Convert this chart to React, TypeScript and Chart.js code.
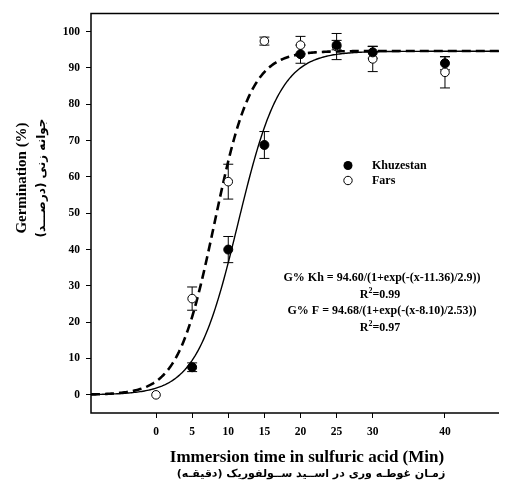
import React, { useEffect, useRef } from "react";
import { Chart, registerables } from "chart.js";

Chart.register(...registerables);

// ---- data ----
const times = [0, 5, 10, 15, 20, 25, 30, 40];
const khuzestan: (number | null)[] = [null, 7.6, 40.0, 68.8, 93.8, 96.3, 94.3, 91.3];
const khuzestanErr = [0, 1.2, 3.6, 3.7, 2.5, 1.3, 1.6, 1.8];
const fars: (number | null)[] = [0, 26.5, 58.7, 97.4, 96.3, 95.9, 92.5, 88.8];
const farsErr = [0, 3.2, 4.8, 1.1, 2.4, 3.6, 3.5, 4.3];
const xTicks = [0, 5, 10, 15, 20, 25, 30, 40];
const yTicks = [0, 10, 20, 30, 40, 50, 60, 70, 80, 90, 100];

// fitted logistic parameters printed on the chart: [a, x0, b]
const fitKh = [94.6, 11.36, 2.9];
const fitF = [94.68, 8.1, 2.53];

const X_MIN = -9;
const X_MAX = 49;

const logistic = (p: number[], x: number) => p[0] / (1 + Math.exp(-(x - p[1]) / p[2]));
const curve = (p: number[]) => {
  const pts: { x: number; y: number }[] = [];
  for (let i = 0; i <= 290; i++) {
    const x = X_MIN + (i * (X_MAX - X_MIN)) / 290;
    pts.push({ x, y: logistic(p, x) });
  }
  return pts;
};

const SERIF = "'Liberation Serif', 'Times New Roman', serif";
const ARABIC = "'DejaVu Sans', sans-serif";

const overlay = {
  id: "overlay",
  beforeDatasetsDraw(chart: any) {
    const { ctx, scales } = chart;
    const xs = scales.x;
    const ys = scales.y;
    ctx.save();
    ctx.strokeStyle = "#000";
    ctx.lineWidth = 1;
    const drawErr = (vals: (number | null)[], errs: number[]) => {
      vals.forEach((v, i) => {
        const e = errs[i];
        if (v === null || !e) return;
        const px = xs.getPixelForValue(times[i]);
        const top = ys.getPixelForValue(v + e);
        const bot = ys.getPixelForValue(v - e);
        ctx.beginPath();
        ctx.moveTo(px, top);
        ctx.lineTo(px, bot);
        ctx.moveTo(px - 5, top);
        ctx.lineTo(px + 5, top);
        ctx.moveTo(px - 5, bot);
        ctx.lineTo(px + 5, bot);
        ctx.stroke();
      });
    };
    drawErr(khuzestan, khuzestanErr);
    drawErr(fars, farsErr);
    ctx.restore();
  },
  afterDraw(chart: any) {
    const { ctx, chartArea } = chart;
    ctx.save();
    // frame
    ctx.strokeStyle = "#000";
    ctx.lineWidth = 1.5;
    ctx.strokeRect(chartArea.left, chartArea.top, chartArea.right - chartArea.left, chartArea.bottom - chartArea.top);

    const L = chartArea.left;
    const T = chartArea.top;
    const B = chartArea.bottom;

    // legend
    ctx.fillStyle = "#000";
    ctx.beginPath();
    ctx.arc(L + 257, T + 152, 4.5, 0, Math.PI * 2);
    ctx.fill();
    ctx.beginPath();
    ctx.arc(L + 257, T + 167, 4.2, 0, Math.PI * 2);
    ctx.fillStyle = "#fff";
    ctx.fill();
    ctx.lineWidth = 1;
    ctx.strokeStyle = "#000";
    ctx.stroke();
    ctx.fillStyle = "#000";
    ctx.font = `bold 12px ${SERIF}`;
    ctx.textAlign = "left";
    ctx.textBaseline = "middle";
    ctx.fillText("Khuzestan", L + 281, T + 152);
    ctx.fillText("Fars", L + 281, T + 167);

    // equations
    const cx = L + 291;
    ctx.textAlign = "center";
    ctx.fillText("G% Kh = 94.60/(1+exp(-(x-11.36)/2.9))", cx, T + 264);
    ctx.fillText("G% F = 94.68/(1+exp(-(x-8.10)/2.53))", cx, T + 297);
    const r2 = (val: string, y: number) => {
      ctx.font = `bold 12px ${SERIF}`;
      const wR = ctx.measureText("R").width;
      const wV = ctx.measureText(val).width;
      ctx.font = `bold 8px ${SERIF}`;
      const w2 = ctx.measureText("2").width;
      const total = wR + w2 + wV;
      let x = cx - 2 - total / 2;
      ctx.textAlign = "left";
      ctx.font = `bold 12px ${SERIF}`;
      ctx.fillText("R", x, y);
      x += wR;
      ctx.font = `bold 8px ${SERIF}`;
      ctx.fillText("2", x, y - 4);
      x += w2;
      ctx.font = `bold 12px ${SERIF}`;
      ctx.fillText(val, x, y);
    };
    r2("=0.99", T + 281);
    r2("=0.97", T + 314);

    // axis titles
    ctx.textAlign = "center";
    ctx.font = `bold 17px ${SERIF}`;
    ctx.fillText("Immersion time in sulfuric acid (Min)", 299, B + 45);
    ctx.font = `bold 11px ${ARABIC}`;
    (ctx as any).direction = "rtl";
    ctx.fillText("زمـان غوطـه وری در اســید ســولفوریک (دقیقـه)", 303, B + 61);
    (ctx as any).direction = "ltr";

    ctx.save();
    ctx.translate(14, 170);
    ctx.rotate(-Math.PI / 2);
    ctx.font = `bold 15px ${SERIF}`;
    ctx.fillText("Germination (%)", 0, 0);
    ctx.restore();

    ctx.save();
    ctx.translate(34, 170);
    ctx.rotate(-Math.PI / 2);
    ctx.font = `bold 12px ${ARABIC}`;
    (ctx as any).direction = "rtl";
    ctx.fillText("جوانه زنی (درصـــد)", 0, 0);
    ctx.restore();

    ctx.restore();
  },
};

export default function App() {
  const ref = useRef<HTMLCanvasElement | null>(null);
  useEffect(() => {
    if (!ref.current) return;
    const chart = new Chart(ref.current, {
      type: "scatter",
      data: {
        datasets: [
          {
            label: "Khuzestan",
            data: times.map((t, i) => ({ x: t, y: khuzestan[i] })),
            pointRadius: 4.5,
            pointBackgroundColor: "#000",
            pointBorderColor: "#000",
            pointBorderWidth: 1,
            showLine: false,
          },
          {
            label: "Fars",
            data: times.map((t, i) => ({ x: t, y: fars[i] })),
            pointRadius: 4.3,
            pointBackgroundColor: "#fff",
            pointBorderColor: "#000",
            pointBorderWidth: 1,
            showLine: false,
          },
          {
            label: "Khuzestan fit",
            data: curve(fitKh),
            showLine: true,
            borderColor: "#000",
            borderWidth: 1.4,
            pointRadius: 0,
            fill: false,
          },
          {
            label: "Fars fit",
            data: curve(fitF),
            showLine: true,
            borderColor: "#000",
            borderWidth: 2.6,
            borderDash: [9, 5],
            pointRadius: 0,
            fill: false,
          },
        ],
      },
      options: {
        animation: false,
        responsive: false,
        maintainAspectRatio: false,
        events: [],
        layout: { padding: { top: 4, right: 18, left: 0, bottom: 0 } },
        plugins: { legend: { display: false }, tooltip: { enabled: false } },
        scales: {
          x: {
            type: "linear",
            min: X_MIN,
            max: X_MAX,
            afterBuildTicks: (s: any) => {
              s.ticks = xTicks.map((v) => ({ value: v }));
            },
            afterFit: (s: any) => {
              s.height = 69;
              s.paddingLeft = 0;
              s.paddingRight = 0;
            },
            grid: { drawOnChartArea: false, drawTicks: true, tickLength: 5, color: "#000", lineWidth: 1 },
            border: { display: false },
            ticks: {
              color: "#000",
              font: { family: SERIF, size: 11.5, weight: "bold" },
              padding: 7,
              maxRotation: 0,
              autoSkip: false,
            },
          },
          y: {
            type: "linear",
            min: -5,
            max: 105,
            afterBuildTicks: (s: any) => {
              s.ticks = yTicks.map((v) => ({ value: v }));
            },
            afterFit: (s: any) => {
              s.width = 83;
              s.paddingTop = 0;
              s.paddingBottom = 0;
            },
            grid: { drawOnChartArea: false, drawTicks: true, tickLength: 5, color: "#000", lineWidth: 1 },
            border: { display: false },
            ticks: {
              color: "#000",
              font: { family: SERIF, size: 11.5, weight: "bold" },
              padding: 6,
              autoSkip: false,
            },
          },
        },
      },
      plugins: [overlay],
    });
    return () => chart.destroy();
  }, []);
  return (
    <div style={{ width: 499, height: 474, overflow: "hidden" }}>
      <canvas ref={ref} width={520} height={474} style={{ display: "block" }} />
    </div>
  );
}
